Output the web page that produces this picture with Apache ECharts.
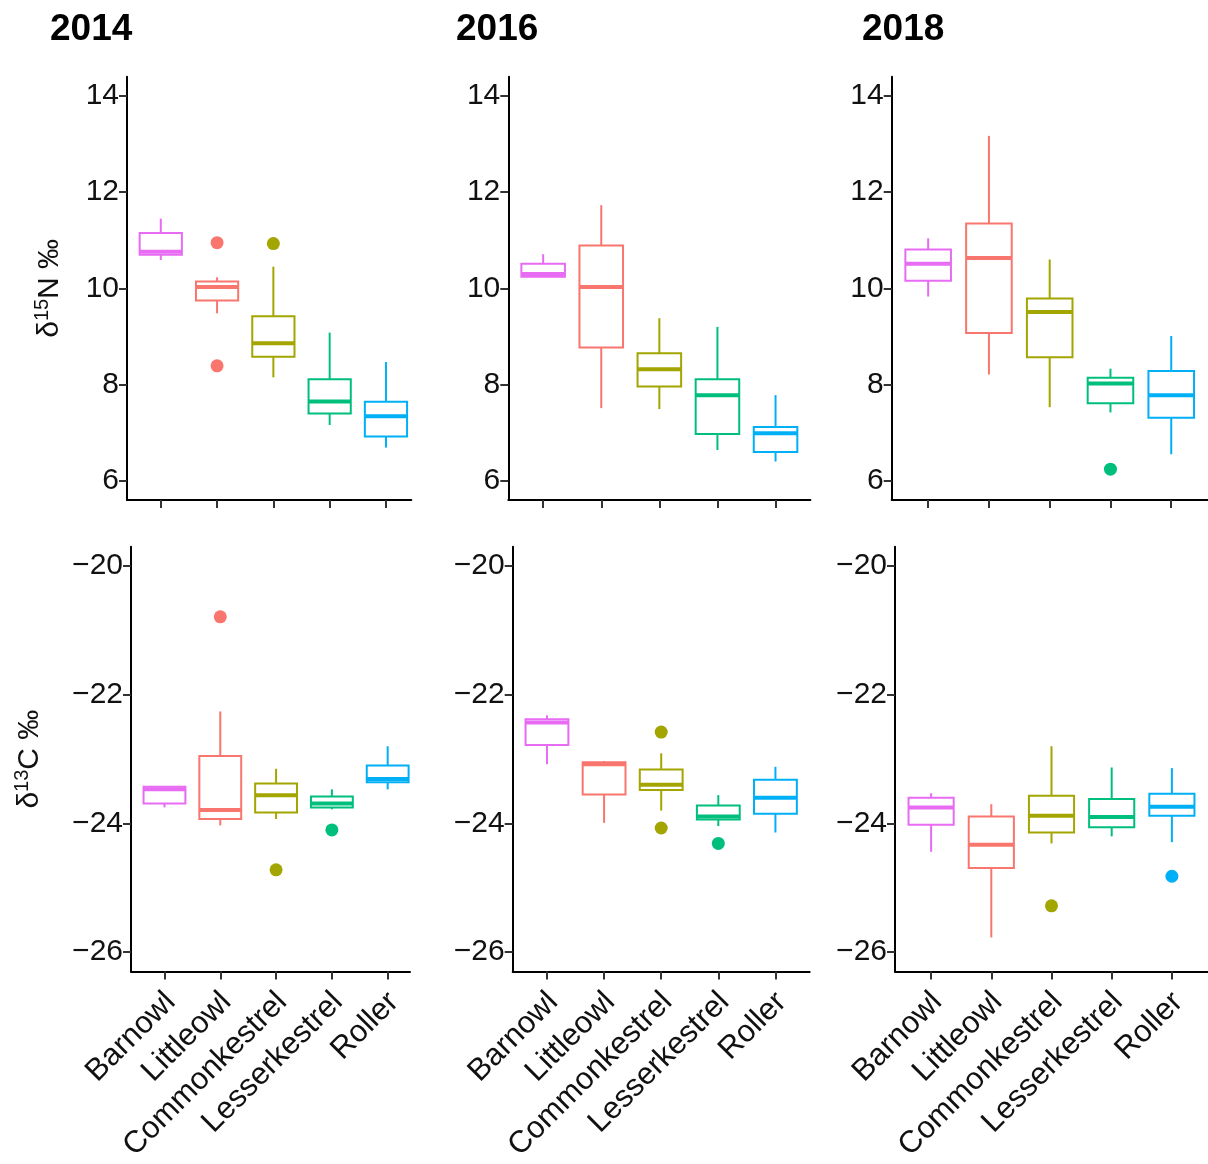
<!DOCTYPE html>
<html><head><meta charset="utf-8">
<script src="https://cdn.jsdelivr.net/npm/echarts@6/dist/echarts.min.js"></script>
<style>html,body{margin:0;padding:0;background:#fff}#c{width:1208px;height:1164px}</style>
</head><body><div id="c"></div>
<script>
const species = ['Barnowl','Littleowl','Commonkestrel','Lesserkestrel','Roller'];
const colors = ['#E76BF3','#F8766D','#A3A500','#00BF7D','#00B0F6'];
const years = ['2014','2016','2018'];
const nTicks = [6,8,10,12,14];
const cTicks = [-26,-24,-22,-20];
// box stats per species: [min, Q1, median, Q3, max]
const n15_2014 = [[10.59,10.70,10.76,11.15,11.45],[9.48,9.75,10.03,10.14,10.23],[8.15,8.58,8.86,9.42,10.45],[7.16,7.40,7.65,8.11,9.08],[6.69,6.92,7.34,7.64,8.47]];
const n15_2016 = [[10.24,10.24,10.30,10.51,10.71],[7.51,8.77,10.03,10.89,11.73],[7.49,7.96,8.32,8.65,9.38],[6.64,6.97,7.78,8.11,9.20],[6.40,6.60,6.99,7.12,7.78]];
const n15_2018 = [[9.83,10.16,10.51,10.81,11.04],[8.21,9.07,10.63,11.35,13.17],[7.53,8.57,9.51,9.79,10.60],[7.42,7.61,8.02,8.14,8.33],[6.55,7.31,7.78,8.28,9.01]];
const c13_2014 = [[-23.75,-23.69,-23.47,-23.43,-23.43],[-24.03,-23.93,-23.79,-22.95,-22.26],[-23.93,-23.83,-23.56,-23.38,-23.15],[-23.78,-23.75,-23.69,-23.58,-23.47],[-23.47,-23.36,-23.31,-23.10,-22.80]];
const c13_2016 = [[-23.08,-22.78,-22.43,-22.38,-22.32],[-23.99,-23.55,-23.08,-23.05,-23.03],[-23.80,-23.48,-23.40,-23.16,-22.91],[-24.04,-23.94,-23.89,-23.72,-23.56],[-24.14,-23.85,-23.60,-23.32,-23.12]];
const c13_2018 = [[-24.44,-24.02,-23.75,-23.60,-23.53],[-25.77,-24.69,-24.33,-23.89,-23.70],[-24.31,-24.14,-23.88,-23.57,-22.80],[-24.20,-24.06,-23.90,-23.62,-23.13],[-24.29,-23.88,-23.74,-23.54,-23.14]];
// outliers: [species index, value]
const n15_2014_out = [[1,10.95],[1,8.39],[2,10.93]];
const n15_2016_out = [];
const n15_2018_out = [[3,6.24]];
const c13_2014_out = [[1,-20.79],[2,-24.72],[3,-24.10]];
const c13_2016_out = [[2,-22.58],[2,-24.07],[3,-24.31]];
const c13_2018_out = [[2,-25.28],[4,-24.82]];

const stats = [n15_2014, n15_2016, n15_2018, c13_2014, c13_2016, c13_2018];
const outs = [n15_2014_out, n15_2016_out, n15_2018_out, c13_2014_out, c13_2016_out, c13_2018_out];

const FONT = 'Liberation Sans, Arial, sans-serif';
const layout = [
  {left:127,   top:76.7,  width:284.3, height:423.3, xmax:4.45},
  {left:508.3, top:76.7,  width:302.1, height:423.3, xmax:4.6},
  {left:891.7, top:76.7,  width:316,   height:423.3, xmax:4.6},
  {left:131,   top:546.7, width:279,   height:426.6, xmax:4.4},
  {left:512.7, top:546.7, width:297,   height:426.6, xmax:4.6},
  {left:895,   top:546.7, width:313,   height:426.6, xmax:4.6}
];
const catIdx = species.map((s,i)=>i);
const minusFmt = v => String(v).replace('-', '\u2212');

function renderBox(params, api) {
  const x = api.value(0);
  const pMin = api.coord([x, api.value(1)]);
  const pQ1 = api.coord([x, api.value(2)]);
  const pMed = api.coord([x, api.value(3)]);
  const pQ3 = api.coord([x, api.value(4)]);
  const pMax = api.coord([x, api.value(5)]);
  const hw = api.size([0.75, 0])[0] / 2;
  const c = colors[x];
  const cx = pMed[0];
  return {type:'group', children:[
    {type:'line', shape:{x1:cx, y1:pMax[1], x2:cx, y2:pQ3[1]}, style:{stroke:c, lineWidth:2}},
    {type:'line', shape:{x1:cx, y1:pQ1[1], x2:cx, y2:pMin[1]}, style:{stroke:c, lineWidth:2}},
    {type:'rect', shape:{x:cx-hw, y:pQ3[1], width:2*hw, height:pQ1[1]-pQ3[1]}, style:{fill:'#fff', stroke:c, lineWidth:2}},
    {type:'line', shape:{x1:cx-hw, y1:pMed[1], x2:cx+hw, y2:pMed[1]}, style:{stroke:c, lineWidth:4}}
  ]};
}

const grids = [], xAxes = [], yAxes = [], series = [];
layout.forEach((L, i) => {
  const row = i < 3 ? 0 : 1;
  grids.push({left:L.left, top:L.top, width:L.width, height:L.height, containLabel:false});
  xAxes.push({
    type:'value', gridIndex:i, min:-0.6, max:L.xmax,
    axisLine:{show:true, onZero:false, lineStyle:{color:'#000', width:2}},
    axisTick:{show:true, customValues:catIdx, length:8, lineStyle:{color:'#333', width:2}},
    axisLabel:{show:row===1, customValues:catIdx, formatter:v=>species[Math.round(v)], rotate:45,
      align:'right', verticalAlign:'top', padding:[0,7,0,0],
      fontSize:31, color:'#111', fontFamily:FONT, margin:10},
    splitLine:{show:false}
  });
  const yname = i===0 ? '{a|δ}{b|15}{a|N ‰}' : (i===3 ? '{a|δ}{b|13}{a|C ‰}' : '');
  yAxes.push({
    type:'value', gridIndex:i,
    min: row===0 ? 5.6 : -26.3, max: row===0 ? 14.4 : -19.7,
    axisLine:{show:true, onZero:false, lineStyle:{color:'#000', width:2}},
    axisTick:{show:true, customValues: row===0 ? nTicks : cTicks, length:8, lineStyle:{color:'#333', width:2}},
    axisLabel:{show:true, customValues: row===0 ? nTicks : cTicks, formatter:minusFmt,
      fontSize:30, color:'#111', fontFamily:FONT, margin:8},
    splitLine:{show:false},
    name: yname, nameLocation:'middle', nameRotate:90, nameGap: row===0 ? 60 : 84,
    nameTextStyle:{rich:{
      a:{fontSize:30, color:'#111', fontFamily:FONT},
      b:{fontSize:20, color:'#111', fontFamily:FONT, verticalAlign:'top', padding:[0,0,15,0]}
    }}
  });
  series.push({
    type:'custom', xAxisIndex:i, yAxisIndex:i, renderItem:renderBox,
    encode:{x:0, y:[1,2,3,4,5]},
    data: stats[i].map((s,k)=>[k].concat(s)), silent:true
  });
  series.push({
    type:'scatter', xAxisIndex:i, yAxisIndex:i, symbolSize:13,
    data: outs[i].map(o=>({value:o, itemStyle:{color:colors[o[0]], opacity:1}})), silent:true
  });
});

const chart = echarts.init(document.getElementById('c'), null, {renderer:'canvas'});
chart.setOption({
  animation:false,
  backgroundColor:'#fff',
  title: years.map((y,i)=>({text:y, left:[45,451,857][i], top:6,
    textStyle:{fontSize:37, fontWeight:'bold', color:'#000', fontFamily:FONT}})),
  grid:grids, xAxis:xAxes, yAxis:yAxes, series:series
});
</script></body></html>
